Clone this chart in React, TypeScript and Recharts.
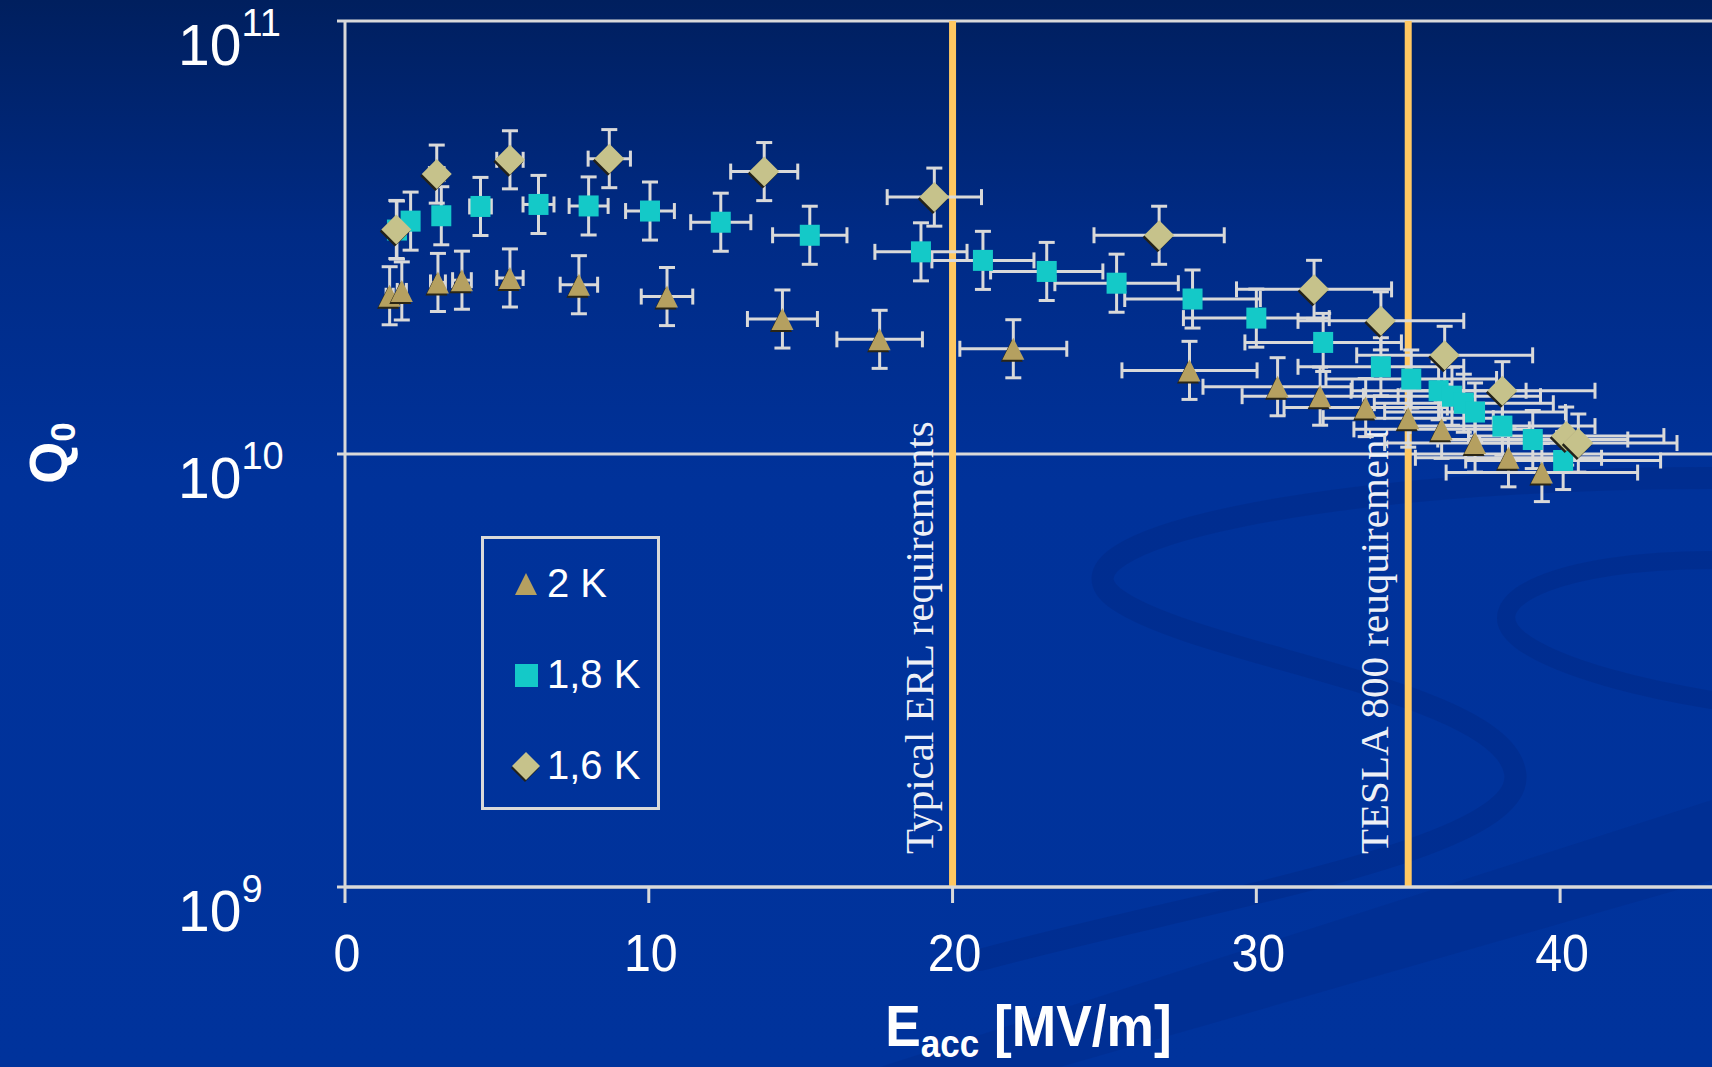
import React from "react";
import {
  CartesianGrid,
  ErrorBar,
  Legend,
  ReferenceLine,
  Scatter,
  ScatterChart,
  XAxis,
  YAxis,
} from "recharts";

// Eacc [MV/m] and Q0, one pair of arrays per bath temperature
const E_2K = [1.47, 1.87, 3.06, 3.85, 5.43, 7.7, 10.6, 14.4, 17.6, 22.0, 27.8, 30.7, 32.1, 33.6, 35.0, 36.1, 37.2, 38.3, 39.4];
const Q_2K = [2.32e10, 2.38e10, 2.49e10, 2.52e10, 2.55e10, 2.46e10, 2.31e10, 2.05e10, 1.84e10, 1.75e10, 1.56e10, 1.43e10, 1.36e10, 1.28e10, 1.21e10, 1.14e10, 1.06e10, 0.98e10, 0.906e10];

const E_18K = [1.71, 2.16, 3.17, 4.46, 6.37, 8.02, 10.04, 12.37, 15.3, 18.96, 21.0, 23.1, 25.4, 27.9, 30.0, 32.2, 34.1, 35.1, 36.0, 36.44, 36.83, 37.2, 38.1, 39.1, 40.1];
const Q_18K = [3.29e10, 3.45e10, 3.55e10, 3.73e10, 3.77e10, 3.74e10, 3.64e10, 3.43e10, 3.2e10, 2.93e10, 2.8e10, 2.64e10, 2.48e10, 2.28e10, 2.06e10, 1.81e10, 1.59e10, 1.49e10, 1.4e10, 1.36e10, 1.31e10, 1.25e10, 1.16e10, 1.08e10, 0.966e10];

const E_16K = [1.69, 3.02, 5.43, 8.7, 13.8, 19.4, 26.8, 31.9, 34.1, 36.2, 38.1, 40.2, 40.6];
const Q_16K = [3.3e10, 4.43e10, 4.78e10, 4.81e10, 4.49e10, 3.92e10, 3.2e10, 2.4e10, 2.03e10, 1.69e10, 1.4e10, 1.1e10, 1.06e10];

const SERIES_NAMES = ["2 K", "1,8 K", "1,6 K"];
const X_TICKS = [0, 10, 20, 30, 40];
const Y_TICKS = [1e9, 1e10, 1e11];
const Y_TICK_EXP = ["9", "10", "11"];
const REQ_E = [20, 35];
const REQ_LABELS = ["Typical ERL requirements", "TESLA 800 reuquirement"];

// error bars: about ±8 % on Eacc, about ±0.067 decade on Q0
const E_REL_ERR = 0.08;
const Q_ERR_FACTOR = 1.167;

const SANS = "'Liberation Sans', Arial, sans-serif";
const SERIF = "'Liberation Serif', 'Times New Roman', serif";
const LINE = "#d9d9d9";
const W = 1712;
const H = 1067;

const rows = (es: number[], qs: number[]) =>
  es.map((x, i) => ({
    x,
    y: qs[i],
    ex: x * E_REL_ERR,
    ey: [qs[i] - qs[i] / Q_ERR_FACTOR, qs[i] * Q_ERR_FACTOR - qs[i]],
  }));

const triPts = (cx: number, cy: number, r: number) =>
  `${cx},${cy - r} ${cx + r},${cy + r} ${cx - r},${cy + r}`;
const diaPts = (cx: number, cy: number, r: number) =>
  `${cx},${cy - r} ${cx + r},${cy} ${cx},${cy + r} ${cx - r},${cy}`;

function TriangleDot({ cx, cy }: any) {
  return (
    <g>
      <polygon points={triPts(cx - 1.5, cy + 2, 11)} fill="#2a2616" />
      <polygon points={triPts(cx, cy, 11)} fill="#b5a060" />
    </g>
  );
}

function SquareDot({ cx, cy }: any) {
  return <rect x={cx - 10} y={cy - 10.5} width={20} height={21} fill="#14c9c8" />;
}

function DiamondDot({ cx, cy }: any) {
  return (
    <g>
      <polygon points={diaPts(cx - 1.5, cy + 2, 15)} fill="#23221a" />
      <polygon points={diaPts(cx, cy, 15)} fill="#c6c28b" />
    </g>
  );
}

function XTick({ x, y, payload }: any) {
  return (
    <text
      transform={`translate(${x + 2},${y + 66}) scale(0.93,1)`}
      textAnchor="middle"
      fill="#fff"
      fontFamily={SANS}
      fontSize={52}
    >
      {payload.value}
    </text>
  );
}

function YTick({ y, payload }: any) {
  const exp = Y_TICK_EXP[Y_TICKS.indexOf(payload.value)];
  return (
    <text x={178} y={y + 44} textAnchor="start" fill="#fff" fontFamily={SANS}>
      <tspan fontSize={57}>10</tspan>
      <tspan fontSize={38} dy={-29}>{exp}</tspan>
    </text>
  );
}

function XTitle({ viewBox }: any) {
  const cx = viewBox.x + viewBox.width / 2;
  return (
    <text
      transform={`translate(${cx},1046) scale(0.92,1)`}
      textAnchor="middle"
      fill="#fff"
      fontFamily={SANS}
      fontWeight="bold"
      fontSize={58}
    >
      <tspan>E</tspan>
      <tspan fontSize={38} dy={11}>acc</tspan>
      <tspan dy={-11}> [MV/m]</tspan>
    </text>
  );
}

function YTitle() {
  return (
    <text transform="translate(67,453) rotate(-90)" textAnchor="middle" fill="#fff" fontFamily={SANS} fontWeight="bold" fontSize={54}>
      <tspan>Q</tspan>
      <tspan fontSize={35} dy={8}>0</tspan>
    </text>
  );
}

function ReqLabel({ viewBox, text }: any) {
  const x = viewBox.x - 20;
  const y = viewBox.y + viewBox.height - 33;
  return (
    <text transform={`translate(${x},${y}) rotate(-90)`} fill="#eef0f6" fontFamily={SERIF} fontSize={41}>
      {text}
    </text>
  );
}

function LegendBox() {
  const icons = [
    <polygon key="t" points={triPts(45, 48, 11)} fill="#b5a060" />,
    <rect key="s" x={34} y={128} width={23} height={23} fill="#14c9c8" />,
    <g key="d">
      <polygon points={diaPts(44, 232, 14)} fill="#23221a" />
      <polygon points={diaPts(45, 230, 14)} fill="#c6c28b" />
    </g>,
  ];
  return (
    <svg width={179} height={274} style={{ display: "block" }}>
      <rect x={1.5} y={1.5} width={176} height={271} fill="none" stroke={LINE} strokeWidth={3} />
      {icons}
      {SERIES_NAMES.map((n, i) => (
        <text key={n} x={66} y={61 + i * 91} fill="#fff" fontFamily={SANS} fontSize={40}>
          {n}
        </text>
      ))}
    </svg>
  );
}

// faint decorative swoosh of the slide template, behind the chart
function Swoosh() {
  return (
    <svg width={W} height={H} style={{ position: "absolute", left: 0, top: 0 }}>
      <g fill="none" stroke="#00257a" strokeOpacity={0.3} strokeLinecap="round">
        <path d="M 1712 478 C 1330 478, 1030 540, 1118 600 C 1200 656, 1500 690, 1515 772 C 1530 850, 1200 900, 980 960" strokeWidth={22} />
        <path d="M 1712 560 C 1560 560, 1470 600, 1520 640 C 1560 670, 1650 690, 1712 700" strokeWidth={18} />
      </g>
      <polygon points="880,1067 1712,800 1712,880 1060,1067" fill="#00257a" fillOpacity={0.2} />
    </svg>
  );
}

export default function App() {
  const series = [
    { data: rows(E_2K, Q_2K), shape: TriangleDot },
    { data: rows(E_18K, Q_18K), shape: SquareDot },
    { data: rows(E_16K, Q_16K), shape: DiamondDot },
  ];
  return (
    <div
      style={{
        position: "absolute",
        left: 0,
        top: 0,
        width: W,
        height: H,
        overflow: "hidden",
        background: "linear-gradient(180deg, #001f5e 0%, #002b86 22%, #00329a 45%, #00339c 100%)",
      }}
    >
      <Swoosh />
      <div style={{ position: "absolute", left: 0, top: 0 }}>
        <ScatterChart width={W} height={H} margin={{ top: 21, right: 0, left: 0, bottom: 0 }}>
          <CartesianGrid vertical={false} stroke={LINE} strokeWidth={3} strokeOpacity={1} />
          <XAxis
            type="number"
            dataKey="x"
            domain={[0, 45]}
            ticks={X_TICKS}
            height={180}
            tickSize={16}
            tickMargin={2}
            axisLine={{ stroke: LINE, strokeWidth: 3 }}
            tickLine={{ stroke: LINE, strokeWidth: 3 }}
            tick={<XTick />}
            allowDataOverflow
            label={<XTitle />}
          />
          <YAxis
            type="number"
            dataKey="y"
            scale="log"
            domain={[1e9, 1e11]}
            ticks={Y_TICKS}
            width={345}
            tickSize={8}
            axisLine={{ stroke: LINE, strokeWidth: 3 }}
            tickLine={{ stroke: LINE, strokeWidth: 3 }}
            tick={<YTick />}
            allowDataOverflow
            label={<YTitle />}
          />
          {REQ_E.map((e, i) => (
            <ReferenceLine
              key={e}
              x={e}
              stroke="#ffc862"
              strokeWidth={7}
              label={<ReqLabel text={REQ_LABELS[i]} />}
            />
          ))}
          {series.map((s, i) => (
            <Scatter
              key={SERIES_NAMES[i]}
              name={SERIES_NAMES[i]}
              data={s.data}
              shape={s.shape}
              isAnimationActive={false}
            >
              <ErrorBar dataKey="ex" direction="x" width={8} stroke={LINE} strokeWidth={3} />
              <ErrorBar dataKey="ey" direction="y" width={8} stroke={LINE} strokeWidth={3} />
            </Scatter>
          ))}
          <Legend
            layout="vertical"
            align="center"
            verticalAlign="middle"
            content={<LegendBox />}
            wrapperStyle={{ position: "absolute", left: 481, top: 536, width: 179, height: 274 }}
          />
        </ScatterChart>
      </div>
    </div>
  );
}
